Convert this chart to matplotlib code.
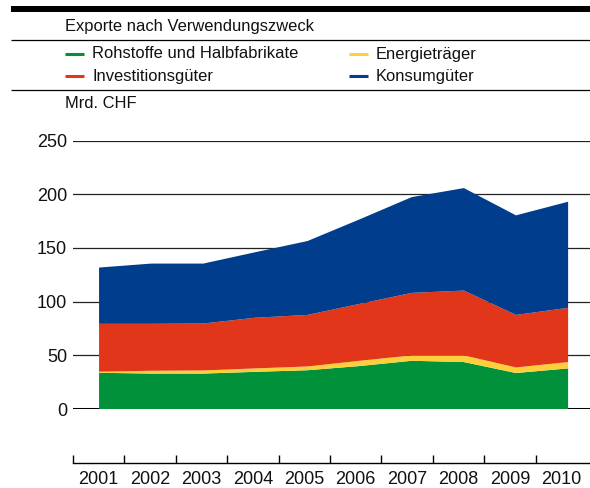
import matplotlib

matplotlib.use("Agg")
import matplotlib.pyplot as plt
from matplotlib.lines import Line2D

# Swiss exports by intended use, bn CHF
years = [2001, 2002, 2003, 2004, 2005, 2006, 2007, 2008, 2009, 2010]
rohstoffe = [33.7, 33.0, 33.0, 34.6, 36.1, 40.0, 44.9, 43.7, 33.5, 37.8]
energie = [1.0, 2.6, 2.9, 3.2, 3.5, 4.9, 5.0, 6.2, 5.2, 5.9]
investition = [44.6, 43.7, 43.7, 47.2, 48.0, 53.0, 58.2, 60.4, 48.9, 50.5]
konsum = [52.4, 56.1, 55.8, 61.0, 68.8, 78.7, 89.2, 95.4, 92.7, 98.8]

series_names = ["Rohstoffe und Halbfabrikate", "Energieträger",
                "Investitionsgüter", "Konsumgüter"]
colors = ["#00913a", "#fdd03b", "#e2361a", "#003d8c"]
yticks = [0, 50, 100, 150, 200, 250]

W, H = 590, 488
FONT = "Liberation Sans"
TXT = "#111111"

plt.rcParams["font.family"] = [FONT, "DejaVu Sans"]

fig = plt.figure(figsize=(W / 100, H / 100), dpi=100)


def fx(px):
    return px / W


def fy(py):
    return 1 - py / H


def hline(y, lw, x0=11, x1=590):
    fig.add_artist(Line2D([fx(x0), fx(x1)], [fy(y), fy(y)], color="black",
                          lw=lw, solid_capstyle="butt"))


# header block
hline(9, 4.3)
hline(40, 0.9)
hline(90, 0.9)
fig.text(fx(65), fy(26), "Exporte nach Verwendungszweck", fontsize=11.9,
         color=TXT, va="center", ha="left")

legend_pos = [(65, 54), (349, 54), (65, 76), (349, 76)]
for (lx, ly), name, c in zip(legend_pos, series_names, colors):
    fig.add_artist(Line2D([fx(lx), fx(lx + 19)], [fy(ly), fy(ly)], color=c,
                          lw=2.2, solid_capstyle="butt"))
    fig.text(fx(lx + 27), fy(ly), name, fontsize=11.9, color=TXT,
             va="center", ha="left")

fig.text(fx(65), fy(104), "Mrd. CHF", fontsize=11.9, color=TXT,
         va="center", ha="left")

# main area chart
ax = fig.add_axes([fx(73), fy(409), fx(590 - 73), (409 - 140.5) / H])
ax.set_xlim(2000.5, 2010.42)
ax.set_ylim(0, 250)
for v in yticks[1:]:
    ax.axhline(v, color="#222222", lw=0.9, zorder=0.5)
ax.axhline(0, color="black", lw=2.2, zorder=0.5)
ax.stackplot(years, rohstoffe, energie, investition, konsum, colors=colors,
             lw=0, zorder=2)
ax.set_yticks(yticks)
ax.set_yticklabels([str(v) for v in yticks], fontsize=13, color=TXT)
ax.tick_params(axis="y", length=0, pad=4.3)
ax.set_xticks([])
for s in ax.spines.values():
    s.set_visible(False)
ax.patch.set_alpha(0)

# separate category axis below
ax2 = fig.add_axes([fx(73), fy(463), fx(590 - 73), 0.001])
ax2.set_xlim(-0.5, 9.56)
ax2.set_xticks([i - 0.5 for i in range(len(years))], minor=True)
ax2.set_xticks(range(len(years)))
ax2.set_xticklabels([str(y) for y in years], fontsize=13, color=TXT)
ax2.tick_params(axis="x", which="major", length=0, pad=5.5)
ax2.tick_params(axis="x", which="minor", direction="in", length=6,
                width=1, color="black")
ax2.set_yticks([])
for k in ["top", "left", "right"]:
    ax2.spines[k].set_visible(False)
ax2.spines["bottom"].set_linewidth(1)
ax2.patch.set_alpha(0)

fig.savefig("out.png", dpi=100)
